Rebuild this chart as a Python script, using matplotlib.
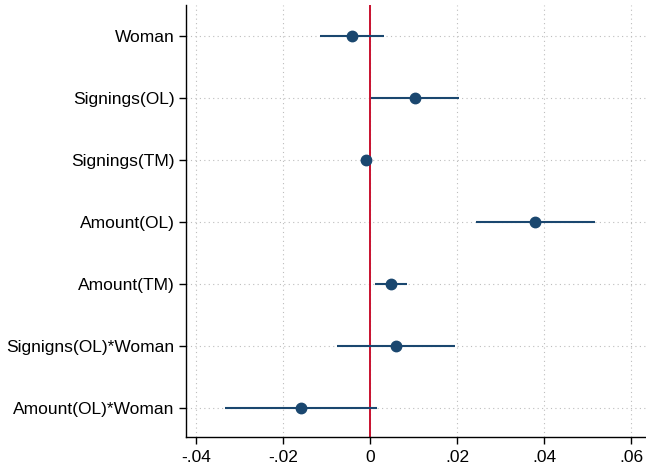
import matplotlib
matplotlib.use("Agg")
import matplotlib.pyplot as plt
from matplotlib.ticker import FuncFormatter

labels = ["Woman", "Signings(OL)", "Signings(TM)", "Amount(OL)", "Amount(TM)",
          "Signigns(OL)*Woman", "Amount(OL)*Woman"]
coef = [-0.0042, 0.0104, -0.0010, 0.0379, 0.0048, 0.0060, -0.0160]
ci_low = [-0.0116, 0.0001, -0.0017, 0.0243, 0.0011, -0.0077, -0.0333]
ci_high = [0.0031, 0.0205, -0.0003, 0.0516, 0.0085, 0.0195, 0.0015]
xticks = [-0.04, -0.02, 0, 0.02, 0.04, 0.06]

plt.rcParams['font.family'] = ['Liberation Sans', 'DejaVu Sans']

fig = plt.figure(figsize=(6.46, 4.67), dpi=100)
ax = fig.add_axes([0.2875, 0.0642, 0.7125, 0.925])

ypos = list(range(1, len(labels) + 1))
navy = '#1a476f'
ax.axvline(0, color='#c8102e', lw=1.4, zorder=2)
ax.hlines(ypos, ci_low, ci_high, color=navy, lw=1.5, zorder=3)
ax.plot(coef, ypos, 'o', color=navy, ms=7.5, zorder=4)

ax.set_xlim(-0.0424, 0.0634)
ax.set_ylim(7.47, 0.5)
ax.set_xticks(xticks)
ax.xaxis.set_major_formatter(FuncFormatter(
    lambda v, p: '0' if abs(v) < 1e-12 else ('%.2f' % v).replace('0.', '.')))
ax.set_yticks(ypos)
ax.set_yticklabels(labels)
ax.grid(True, linestyle=(0, (1, 3)), color='#bdbdbd', lw=0.8)
ax.set_axisbelow(True)
for s in ['top', 'right']:
    ax.spines[s].set_visible(False)
ax.spines['left'].set_linewidth(1.0)
ax.spines['bottom'].set_linewidth(1.0)
ax.tick_params(axis='both', direction='out', length=5, width=1, labelsize=12.5, colors='black')
ax.tick_params(axis='y', pad=3)
ax.tick_params(axis='x', pad=4)

fig.savefig('out.png', dpi=100)
